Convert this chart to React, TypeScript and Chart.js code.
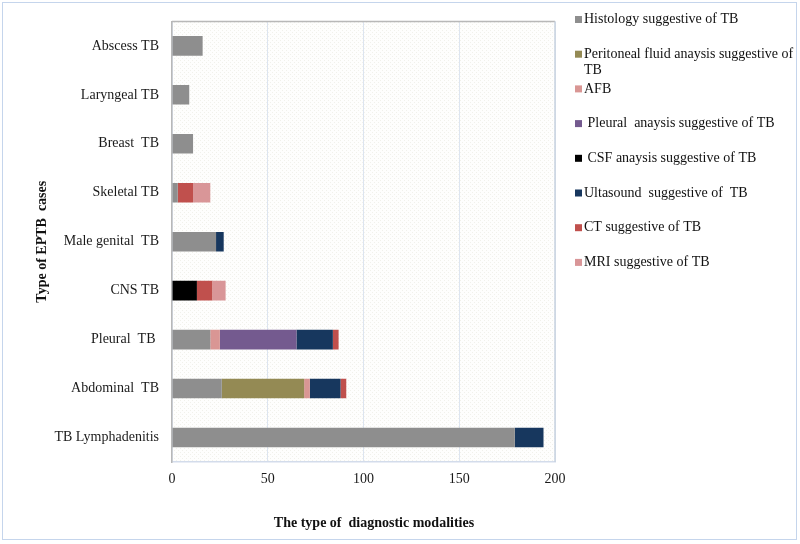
import { useEffect, useRef } from 'react';
import { Chart, registerables } from 'chart.js';
Chart.register(...registerables);

const categories = [
  'Abscess TB',
  'Laryngeal TB',
  'Breast  TB',
  'Skeletal TB',
  'Male genital  TB',
  'CNS TB',
  'Pleural  TB ',
  'Abdominal  TB',
  'TB Lymphadenitis',
];

const histology = [16, 9, 11, 3, 23, null, 20, 26, 179];
const peritoneal = [null, null, null, null, null, null, null, 43, null];
const afb = [null, null, null, null, null, null, 5, 3, null];
const pleural = [null, null, null, null, null, null, 40, null, null];
const csf = [null, null, null, null, null, 13, null, null, null];
const ultrasound = [null, null, null, null, 4, null, 19, 16, 15];
const ct = [null, null, null, 8, null, 8, 3, 3, null];
const mri = [null, null, null, 9, null, 7, null, null, null];

const seriesLabels = [
  'Histology suggestive of TB',
  'Peritoneal fluid anaysis suggestive of TB',
  'AFB',
  ' Pleural  anaysis suggestive of TB',
  ' CSF anaysis suggestive of TB',
  'Ultasound  suggestive of  TB',
  'CT suggestive of TB',
  'MRI suggestive of TB',
];
const seriesColors = ['#8e8e8e', '#948a54', '#d99694', '#745a8f', '#000000', '#17375e', '#c0504d', '#d99698'];
const seriesData = [histology, peritoneal, afb, pleural, csf, ultrasound, ct, mri];

const xTicks = [0, 50, 100, 150, 200];
const xTitle = 'The type of  diagnostic modalities';
const yTitle = 'Type of EPTB  cases';

const FONT = "'Liberation Serif', 'Times New Roman', serif";

export default function App() {
  const ref = useRef<HTMLCanvasElement | null>(null);

  useEffect(() => {
    if (!ref.current) return;
    const pc = document.createElement('canvas');
    pc.width = 4;
    pc.height = 4;
    const pctx = pc.getContext('2d')!;
    pctx.fillStyle = '#fefefd';
    pctx.fillRect(0, 0, 4, 4);
    pctx.fillStyle = '#f1f1eb';
    pctx.fillRect(0, 0, 1, 1);
    pctx.fillRect(2, 2, 1, 1);

    const framePlugin = {
      id: 'frame',
      beforeDraw(chart: any) {
        const { ctx, chartArea } = chart;
        ctx.save();
        ctx.fillStyle = '#ffffff';
        ctx.fillRect(0, 0, chart.width, chart.height);
        ctx.strokeStyle = '#c5d5ec';
        ctx.lineWidth = 1;
        ctx.strokeRect(2.5, 2.5, 794, 537);
        const pat = ctx.createPattern(pc, 'repeat');
        ctx.fillStyle = pat || '#fafaf7';
        ctx.fillRect(chartArea.left, chartArea.top, chartArea.right - chartArea.left, chartArea.bottom - chartArea.top);
        ctx.restore();
      },
      afterDraw(chart: any) {
        const { ctx, chartArea } = chart;
        ctx.save();
        ctx.strokeStyle = '#b8b8b8';
        ctx.lineWidth = 1.5;
        ctx.beginPath();
        ctx.moveTo(chartArea.left, chartArea.top);
        ctx.lineTo(chartArea.right, chartArea.top);
        ctx.stroke();
        ctx.strokeStyle = '#c9d3e0';
        ctx.beginPath();
        ctx.moveTo(chartArea.right, chartArea.top);
        ctx.lineTo(chartArea.right, chartArea.bottom);
        ctx.stroke();
        // x axis title
        ctx.font = `bold 14px ${FONT}`;
        ctx.fillStyle = '#111111';
        ctx.textAlign = 'center';
        ctx.textBaseline = 'middle';
        ctx.fillText(xTitle, 374, 523);
        // legend
        ctx.font = `14px ${FONT}`;
        ctx.textBaseline = 'middle';
        ctx.textAlign = 'left';
        const maxW = 212;
        chart.data.datasets.forEach((ds: any, i: number) => {
          const y = 19.5 + i * 34.7;
          ctx.fillStyle = ds.backgroundColor;
          ctx.fillRect(575, y - 3.5, 7, 7);
          ctx.fillStyle = '#111111';
          const words = String(ds.label).split(' ');
          const lines: string[] = [];
          let cur = '';
          words.forEach((w, wi) => {
            const test = wi === 0 ? w : cur + ' ' + w;
            if (ctx.measureText(test).width > maxW && cur.trim() !== '') {
              lines.push(cur);
              cur = w;
            } else {
              cur = test;
            }
          });
          lines.push(cur);
          lines.forEach((ln, li) => {
            ctx.fillText(ln, 584, y + li * 16);
          });
        });
        ctx.restore();
      },
    };

    const chart = new Chart(ref.current, {
      type: 'bar',
      data: {
        labels: categories,
        datasets: seriesLabels.map((label, i) => ({
          label,
          data: seriesData[i] as any,
          backgroundColor: seriesColors[i],
          borderWidth: 0,
          barPercentage: 0.4,
          categoryPercentage: 1,
        })),
      },
      options: {
        indexAxis: 'y',
        animation: false,
        responsive: false,
        layout: { padding: { top: 16, right: 245, bottom: 0, left: 0 } },
        plugins: {
          legend: { display: false },
          tooltip: { enabled: false },
        },
        scales: {
          x: {
            stacked: true,
            min: 0,
            max: 200,
            afterFit: (s: any) => {
              s.height = 82;
            },
            afterBuildTicks: (s: any) => {
              s.ticks = xTicks.map((v) => ({ value: v }));
            },
            ticks: {
              padding: 9,
              color: '#1a1a1a',
              font: { family: FONT, size: 14 },
            },
            grid: { color: '#dde5f0', drawTicks: false, lineWidth: 1 },
            border: { color: '#d3dceb', width: 1.5 },
            title: { display: false },
          },
          y: {
            stacked: true,
            afterFit: (s: any) => {
              s.width = 172;
            },
            ticks: {
              padding: 13,
              color: '#1a1a1a',
              font: { family: FONT, size: 14 },
            },
            grid: { display: false, drawTicks: false },
            border: { color: '#b8b8b8', width: 1.5 },
            title: {
              display: true,
              text: yTitle,
              color: '#111111',
              font: { family: FONT, size: 14, weight: 'bold' },
              padding: { top: 34, bottom: 0 },
            },
          },
        },
      },
      plugins: [framePlugin],
    });
    return () => chart.destroy();
  }, []);

  return (
    <div style={{ position: 'absolute', left: 0, top: 0, width: 800, height: 544 }}>
      <canvas ref={ref} width={800} height={544} style={{ width: 800, height: 544, display: 'block' }} />
    </div>
  );
}
